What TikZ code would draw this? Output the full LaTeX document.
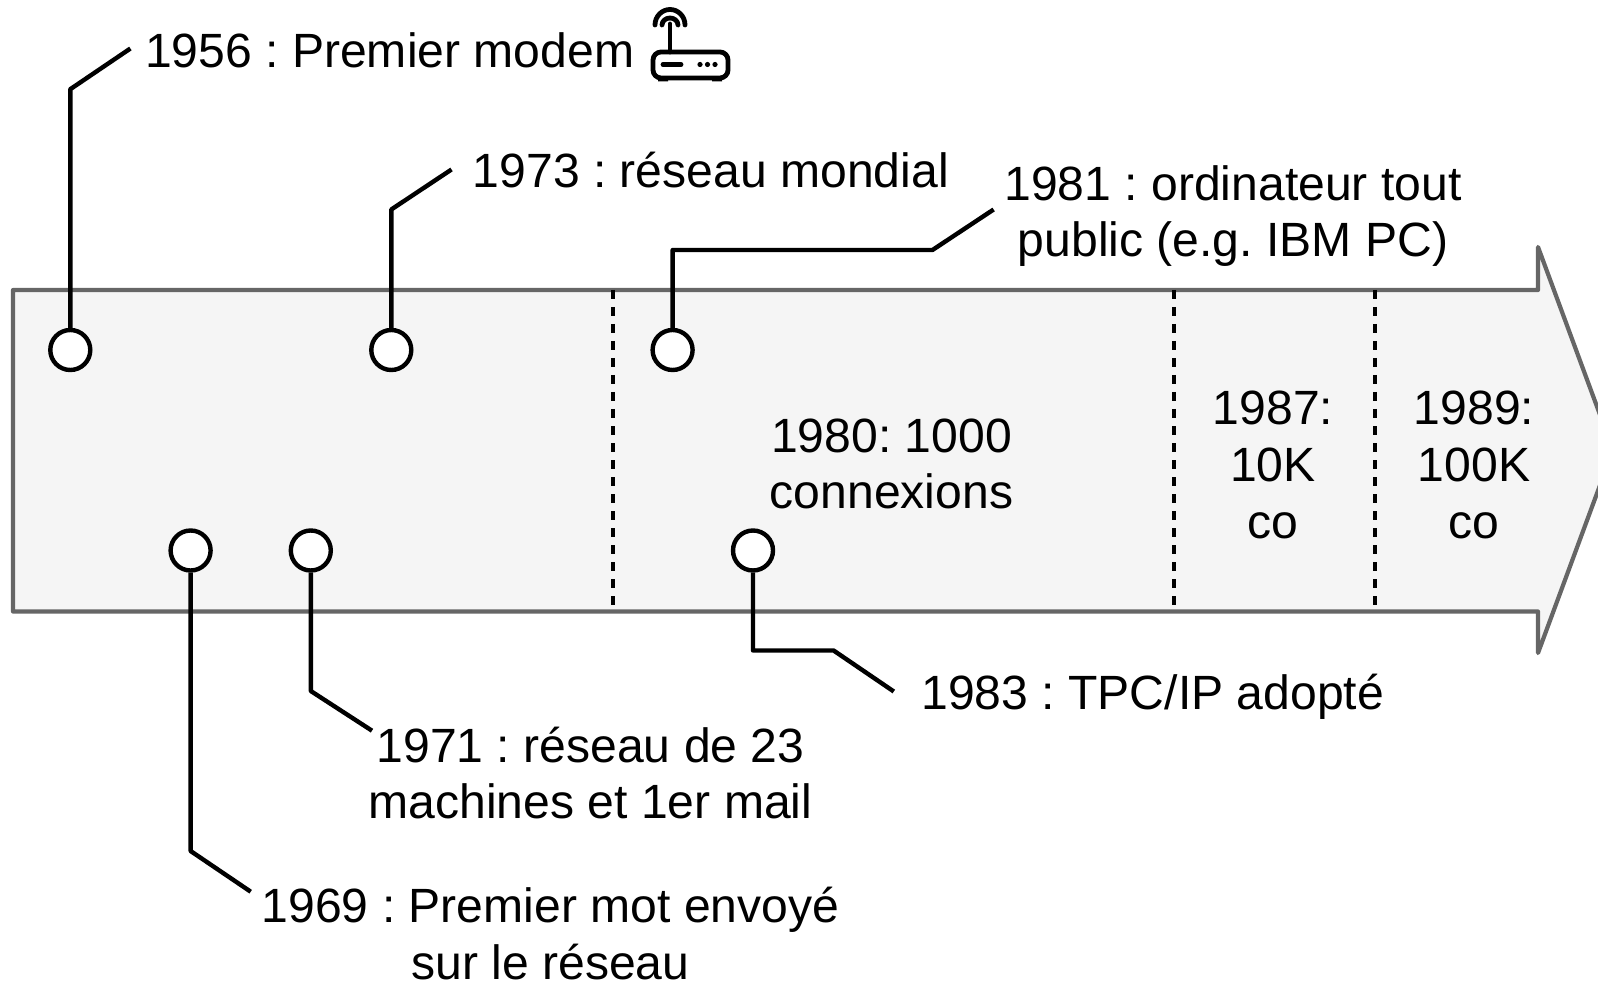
\documentclass[tikz,border=0pt]{standalone}
\usepackage{fontspec}
\setmainfont{Liberation Sans}
\definecolor{bandfill}{HTML}{F5F5F5}
\definecolor{bandline}{HTML}{666666}
\tikzset{
  event/.style={circle,draw=black,fill=white,line width=2.2pt,minimum size=20pt,inner sep=0pt},
  link/.style={line width=2.2pt,line join=round},
  label/.style={font=\frenchspacing\fontsize{24.05}{28.3}\selectfont,align=center,inner sep=0pt},
  sep/.style={line width=2pt,dash pattern=on 4.5pt off 4pt},
  icon/.style={line width=2.4pt,line cap=round,line join=round},
}
\begin{document}
\begin{tikzpicture}[x=0.5pt,y=-0.5pt]
        \path[use as bounding box,clip] (0,0) rectangle (1598,983);
        % frise
        \draw[fill=bandfill,draw=bandline,line width=2.1pt,line join=round]
          (13,290) -- (1538,290) -- (1538,247) -- (1613,450) -- (1538,653) -- (1538,611.5) -- (13,611.5) -- cycle;
        % separations
        \coordinate (s1t) at (612.5,290);
        \coordinate (s1b) at (612.5,611.5);
        \coordinate (s2t) at (1174,290);
        \coordinate (s2b) at (1174,611.5);
        \coordinate (s3t) at (1375,290);
        \coordinate (s3b) at (1375,611.5);
        \draw[sep] (s1t) -- (s1b);
        \draw[sep] (s2t) -- (s2b);
        \draw[sep] (s3t) -- (s3b);
        % evenements
        \node[event] (e56) at (70.3,350) {};
        \node[event] (e73) at (391.3,350) {};
        \node[event] (e81) at (672.6,350) {};
        \node[event] (e69) at (190.6,550.5) {};
        \node[event] (e71) at (310.8,550.5) {};
        \node[event] (e83) at (753,550.5) {};
        % textes
        \node[label,anchor=west] (t56) at (144.7,50.5) {1956 : Premier modem};
        \node[label,anchor=west] (t73) at (472.5,170.5) {1973 : réseau mondial};
        \node[label] (t81) at (1233,216) {1981 : ordinateur tout\\public (e.g. IBM PC)};
        \node[label] (t80) at (891.5,464) {1980: 1000\\connexions};
        \node[label] (t87) at (1273,465) {1987:\\10K\\co};
        \node[label] (t89) at (1474,465) {1989:\\100K\\co};
        \node[label,anchor=west] (t83) at (921,696.5) {1983 : TPC/IP adopté};
        \node[label] (t71) at (590.5,773) {1971 : réseau de 23\\machines et 1er mail};
        \node[label] (t69) at (550.5,933.5) {1969 : Premier mot envoyé\\sur le réseau};
        % liens
        \coordinate (k56) at (70.3,89.2);
        \coordinate (f56) at (130.4,48.5);
        \coordinate (k73) at (391.3,209.5);
        \coordinate (f73) at (451.5,169.5);
        \coordinate (k81) at (672.6,250);
        \coordinate (j81) at (932.5,250);
        \coordinate (f81) at (993.6,209.5);
        \coordinate (k69) at (190.6,851);
        \coordinate (f69) at (250.7,891.7);
        \coordinate (k71) at (310.8,691);
        \coordinate (f71) at (372,730.7);
        \coordinate (k83) at (753,650.5);
        \coordinate (j83) at (833.6,650.5);
        \coordinate (f83) at (893.8,691.5);
        \draw[link] (e56) -- (k56) -- (f56);
        \draw[link] (e73) -- (k73) -- (f73);
        \draw[link] (e81) -- (k81) -- (j81) -- (f81);
        \draw[link] (e69) -- (k69) -- (f69);
        \draw[link] (e71) -- (k71) -- (f71);
        \draw[link] (e83) -- (k83) -- (j83) -- (f83);
        % routeur
        \draw[icon,rounded corners=4pt] (653,52) rectangle (728,78);
        \draw[icon] (670,52) -- (670,24);
        \draw[icon] (662,25) arc (180:360:8 and 7);
        \draw[icon] (655,25) arc (180:360:15 and 15.5);
        \draw[icon] (663,64.5) -- (681,64.5);
        \fill (700,64.5) circle (1.3pt) (707.5,64.5) circle (1.3pt) (715,64.5) circle (1.3pt);
        \fill (658,78) rectangle (668,81.5) (712,78) rectangle (722,81.5);
    \end{tikzpicture}
\end{document}
